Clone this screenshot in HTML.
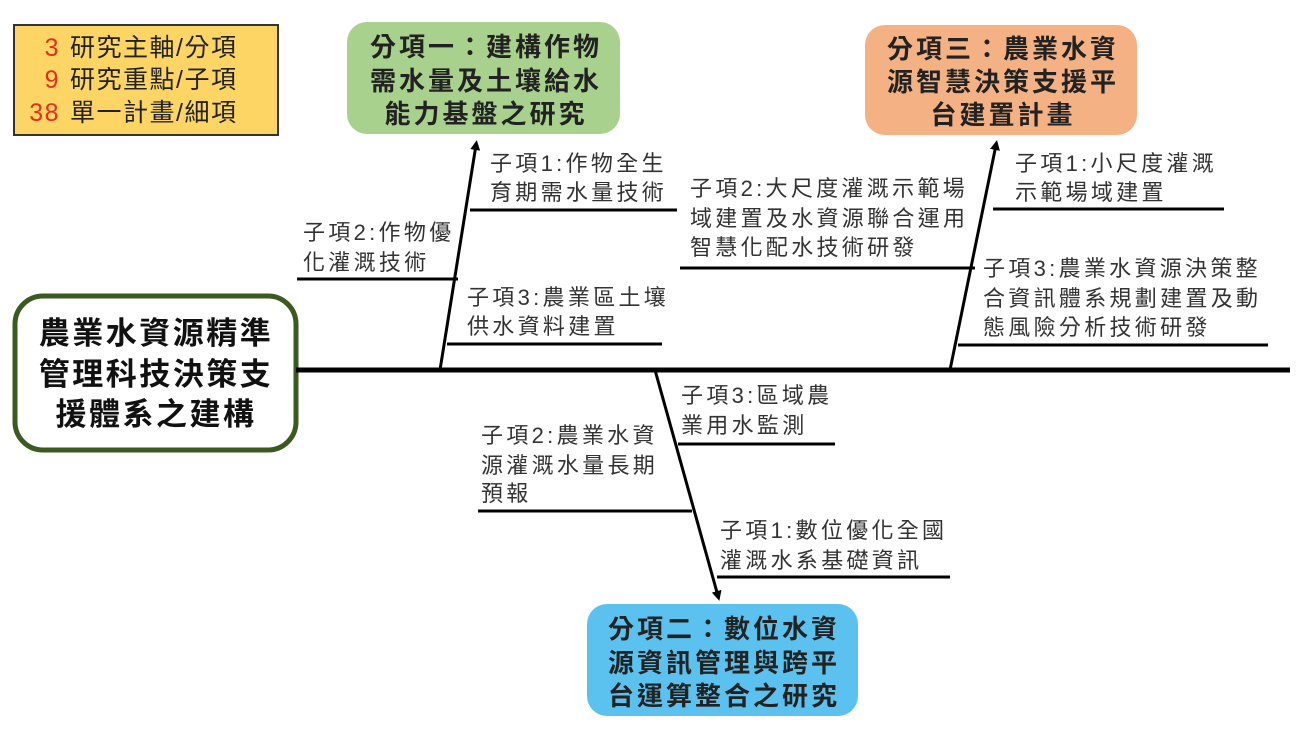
<!DOCTYPE html>
<html><head><meta charset="utf-8"><style>
body{margin:0;background:#fff;}
svg{display:block;font-family:"Liberation Sans","Noto Sans CJK TC",sans-serif;}
.s{font-size:22px;fill:#333;letter-spacing:3.3px;}
.b{font-size:26px;font-weight:bold;fill:#222;letter-spacing:3px;}
.m{font-size:31px;font-weight:bold;fill:#111;letter-spacing:2.5px;}
.l{font-size:25px;fill:#222;letter-spacing:1.5px;}
.r{fill:#e03020;}
</style></head><body>
<svg width="1306" height="730" viewBox="0 0 1306 730">
<defs><marker id="a" markerWidth="10" markerHeight="10" refX="5" refY="5" orient="auto" markerUnits="userSpaceOnUse"><path d="M0,0 L10,5 L0,10 z" fill="#000"/></marker></defs>
<rect x="14" y="25" width="264" height="110" fill="#fdd565" stroke="#333" stroke-width="2"/>
<text class="l" y="56"><tspan class="r" x="60" text-anchor="end">3</tspan><tspan x="70">研究主軸/分項</tspan></text>
<text class="l" y="88"><tspan class="r" x="60" text-anchor="end">9</tspan><tspan x="70">研究重點/子項</tspan></text>
<text class="l" y="121"><tspan class="r" x="60" text-anchor="end">38</tspan><tspan x="70">單一計畫/細項</tspan></text>
<rect x="347" y="22" width="273" height="112" rx="20" fill="#a9d18e"/>
<text class="b" text-anchor="middle"><tspan x="486" y="56">分項一：建構作物</tspan><tspan x="486" y="90">需水量及土壤給水</tspan><tspan x="486" y="123">能力基盤之研究</tspan></text>
<rect x="865" y="25" width="272" height="110" rx="20" fill="#f4b183"/>
<text class="b" text-anchor="middle"><tspan x="1003" y="58">分項三：農業水資</tspan><tspan x="1003" y="91">源智慧決策支援平</tspan><tspan x="1003" y="124">台建置計畫</tspan></text>
<rect x="587" y="604" width="271" height="112" rx="20" fill="#5bc2ef"/>
<text class="b" text-anchor="middle"><tspan x="724" y="638">分項二：數位水資</tspan><tspan x="724" y="672">源資訊管理與跨平</tspan><tspan x="724" y="705">台運算整合之研究</tspan></text>
<rect x="15" y="296" width="281" height="154" rx="28" fill="#fff" stroke="#3b5a1f" stroke-width="5"/>
<text class="m" text-anchor="middle"><tspan x="156" y="344">農業水資源精準</tspan><tspan x="156" y="385">管理科技決策支</tspan><tspan x="156" y="425">援體系之建構</tspan></text>
<line x1="296" y1="370" x2="1290" y2="370" stroke="#000" stroke-width="5"/>
<g stroke="#000" stroke-width="3">
<line x1="440" y1="370" x2="476" y2="145" marker-end="url(#a)"/>
<line x1="950" y1="370" x2="996" y2="145" marker-end="url(#a)"/>
<line x1="655" y1="370" x2="718" y2="596" marker-end="url(#a)"/>
<line x1="470" y1="210" x2="677" y2="210"/>
<line x1="297" y1="279" x2="458" y2="279"/>
<line x1="447" y1="344" x2="662" y2="344"/>
<line x1="993" y1="209" x2="1224" y2="209"/>
<line x1="680" y1="268" x2="975" y2="268"/>
<line x1="958" y1="345" x2="1268" y2="345"/>
<line x1="678" y1="444" x2="835" y2="444"/>
<line x1="478" y1="511" x2="692" y2="511"/>
<line x1="717" y1="577" x2="950" y2="577"/>
</g>
<g class="s">
<text><tspan x="490" y="171">子項1:作物全生</tspan><tspan x="490" y="200">育期需水量技術</tspan></text>
<text><tspan x="303" y="240">子項2:作物優</tspan><tspan x="303" y="270">化灌溉技術</tspan></text>
<text><tspan x="467" y="305">子項3:農業區土壤</tspan><tspan x="467" y="334">供水資料建置</tspan></text>
<text><tspan x="690" y="196">子項2:大尺度灌溉示範場</tspan><tspan x="690" y="226">域建置及水資源聯合運用</tspan><tspan x="690" y="255">智慧化配水技術研發</tspan></text>
<text><tspan x="1015" y="171">子項1:小尺度灌溉</tspan><tspan x="1015" y="200">示範場域建置</tspan></text>
<text><tspan x="983" y="276">子項3:農業水資源決策整</tspan><tspan x="983" y="306">合資訊體系規劃建置及動</tspan><tspan x="983" y="335">態風險分析技術研發</tspan></text>
<text><tspan x="681" y="403">子項3:區域農</tspan><tspan x="681" y="433">業用水監測</tspan></text>
<text><tspan x="481" y="443">子項2:農業水資</tspan><tspan x="481" y="473">源灌溉水量長期</tspan><tspan x="481" y="501">預報</tspan></text>
<text><tspan x="720" y="538">子項1:數位優化全國</tspan><tspan x="720" y="568">灌溉水系基礎資訊</tspan></text>
</g>
</svg>
</body></html>
